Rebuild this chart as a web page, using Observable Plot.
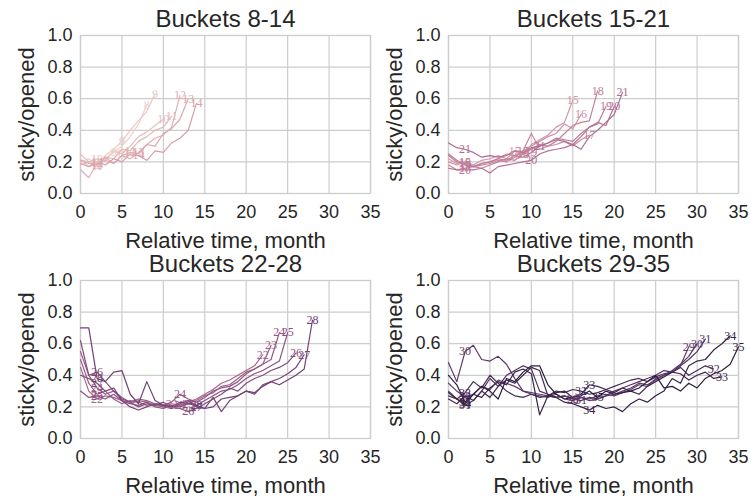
<!DOCTYPE html>
<html><head><meta charset="utf-8">
<script src="https://cdn.jsdelivr.net/npm/d3@7"></script>
<script src="https://cdn.jsdelivr.net/npm/@observablehq/plot@0.6"></script>
<style>
body{margin:0;background:#fff;}
#chart{position:relative;width:751px;height:497px;overflow:hidden;background:#fff;}
</style></head><body><div id="chart"></div>
<script>
// y value at relative month 0..b for each bucket b
const bucket8  = [0.22,0.17,0.19,0.22,0.26,0.30,0.36,0.44,0.56];
const bucket9  = [0.20,0.22,0.18,0.24,0.28,0.33,0.40,0.46,0.52,0.63];
const bucket10 = [0.25,0.20,0.22,0.21,0.27,0.25,0.30,0.36,0.39,0.43,0.47];
const bucket11 = [0.18,0.20,0.17,0.23,0.22,0.28,0.27,0.33,0.36,0.40,0.42,0.49];
const bucket12 = [0.15,0.10,0.19,0.21,0.19,0.24,0.26,0.25,0.31,0.35,0.37,0.42,0.62];
const bucket13 = [0.21,0.19,0.18,0.23,0.19,0.24,0.22,0.26,0.31,0.30,0.38,0.41,0.47,0.60];
const bucket14 = [0.19,0.17,0.20,0.18,0.22,0.20,0.25,0.24,0.21,0.27,0.26,0.32,0.35,0.40,0.57];

const bucket15 = [0.22,0.19,0.20,0.18,0.21,0.22,0.24,0.22,0.27,0.25,0.31,0.34,0.37,0.42,0.45,0.59];
const bucket16 = [0.20,0.18,0.20,0.17,0.19,0.20,0.22,0.25,0.24,0.27,0.30,0.33,0.36,0.38,0.44,0.41,0.50];
const bucket17 = [0.18,0.15,0.16,0.17,0.18,0.19,0.21,0.20,0.23,0.27,0.38,0.28,0.30,0.31,0.33,0.30,0.34,0.37];
const bucket18 = [0.24,0.20,0.19,0.17,0.16,0.18,0.20,0.22,0.21,0.25,0.28,0.31,0.30,0.33,0.38,0.43,0.45,0.46,0.65];
const bucket19 = [0.25,0.21,0.18,0.17,0.19,0.20,0.22,0.21,0.24,0.23,0.26,0.30,0.32,0.35,0.34,0.33,0.38,0.42,0.44,0.55];
const bucket20 = [0.16,0.15,0.15,0.15,0.16,0.13,0.17,0.18,0.19,0.20,0.21,0.25,0.27,0.28,0.29,0.31,0.36,0.42,0.45,0.43,0.55];
const bucket21 = [0.32,0.29,0.28,0.26,0.23,0.24,0.23,0.24,0.27,0.26,0.29,0.30,0.32,0.34,0.33,0.31,0.28,0.36,0.40,0.45,0.50,0.64];

const bucket22 = [0.45,0.30,0.25,0.27,0.26,0.24,0.22,0.24,0.23,0.21,0.20,0.22,0.21,0.23,0.25,0.28,0.31,0.35,0.37,0.40,0.43,0.46,0.53];
const bucket23 = [0.50,0.35,0.28,0.30,0.25,0.22,0.24,0.23,0.21,0.22,0.20,0.19,0.21,0.22,0.24,0.27,0.29,0.33,0.34,0.38,0.42,0.44,0.47,0.59];
const bucket24 = [0.55,0.40,0.32,0.28,0.30,0.26,0.23,0.25,0.24,0.22,0.21,0.23,0.28,0.25,0.23,0.26,0.30,0.32,0.33,0.36,0.41,0.44,0.47,0.50,0.67];
const bucket25 = [0.30,0.26,0.27,0.25,0.28,0.24,0.22,0.21,0.23,0.20,0.19,0.21,0.20,0.22,0.21,0.24,0.27,0.30,0.31,0.34,0.38,0.41,0.43,0.46,0.49,0.67];
const bucket26 = [0.62,0.40,0.42,0.36,0.30,0.25,0.23,0.20,0.22,0.21,0.23,0.20,0.19,0.17,0.19,0.22,0.25,0.28,0.32,0.30,0.35,0.38,0.40,0.43,0.45,0.48,0.54];
const bucket27 = [0.40,0.38,0.35,0.30,0.32,0.24,0.20,0.18,0.20,0.22,0.21,0.19,0.22,0.24,0.20,0.19,0.26,0.17,0.24,0.27,0.30,0.28,0.34,0.36,0.38,0.41,0.45,0.53];
const bucket28 = [0.70,0.70,0.38,0.36,0.42,0.43,0.28,0.22,0.36,0.24,0.21,0.20,0.23,0.22,0.21,0.19,0.20,0.25,0.26,0.27,0.30,0.29,0.33,0.36,0.34,0.37,0.40,0.44,0.75];

const bucket29 = [0.35,0.30,0.26,0.28,0.33,0.31,0.37,0.35,0.33,0.30,0.29,0.28,0.27,0.26,0.27,0.25,0.26,0.24,0.25,0.27,0.28,0.30,0.32,0.35,0.34,0.37,0.40,0.42,0.46,0.58];
const bucket30 = [0.48,0.36,0.55,0.59,0.50,0.49,0.52,0.47,0.38,0.30,0.28,0.27,0.26,0.28,0.25,0.24,0.26,0.25,0.27,0.28,0.27,0.29,0.31,0.34,0.33,0.38,0.40,0.43,0.47,0.52,0.60];
const bucket31 = [0.30,0.25,0.21,0.24,0.30,0.38,0.33,0.40,0.43,0.46,0.44,0.30,0.28,0.26,0.27,0.25,0.24,0.26,0.25,0.27,0.30,0.32,0.34,0.36,0.38,0.40,0.43,0.42,0.46,0.50,0.55,0.63];
const bucket32 = [0.27,0.25,0.29,0.36,0.32,0.40,0.35,0.30,0.27,0.26,0.28,0.26,0.27,0.30,0.29,0.31,0.30,0.28,0.29,0.31,0.33,0.35,0.37,0.38,0.36,0.39,0.41,0.42,0.45,0.40,0.43,0.46,0.44];
const bucket33 = [0.25,0.22,0.27,0.24,0.30,0.26,0.33,0.37,0.35,0.40,0.45,0.43,0.27,0.29,0.30,0.26,0.28,0.34,0.33,0.31,0.29,0.32,0.30,0.28,0.33,0.36,0.39,0.42,0.41,0.37,0.40,0.42,0.38,0.39];
const bucket34 = [0.29,0.25,0.22,0.28,0.26,0.32,0.36,0.34,0.42,0.44,0.41,0.15,0.27,0.26,0.23,0.22,0.20,0.18,0.21,0.19,0.20,0.17,0.22,0.25,0.23,0.27,0.30,0.38,0.35,0.46,0.49,0.50,0.56,0.60,0.65];
const bucket35 = [0.40,0.34,0.23,0.28,0.33,0.30,0.25,0.38,0.36,0.42,0.46,0.46,0.34,0.28,0.25,0.26,0.27,0.30,0.26,0.30,0.28,0.29,0.30,0.32,0.36,0.40,0.32,0.33,0.30,0.35,0.32,0.38,0.41,0.43,0.47,0.58];

const panelTitles = ["Buckets 8-14", "Buckets 15-21", "Buckets 22-28", "Buckets 29-35"];
const panelBuckets = [[8,9,10,11,12,13,14],[15,16,17,18,19,20,21],[22,23,24,25,26,27,28],[29,30,31,32,33,34,35]];
const xTicks = [0, 5, 10, 15, 20, 25, 30, 35];
const yTicks = [0, 0.2, 0.4, 0.6, 0.8, 1.0];
const xLabel = "Relative time, month";
const yLabel = "sticky/opened";

const series = {8:bucket8,9:bucket9,10:bucket10,11:bucket11,12:bucket12,13:bucket13,14:bucket14,
  15:bucket15,16:bucket16,17:bucket17,18:bucket18,19:bucket19,20:bucket20,21:bucket21,
  22:bucket22,23:bucket23,24:bucket24,25:bucket25,26:bucket26,27:bucket27,28:bucket28,
  29:bucket29,30:bucket30,31:bucket31,32:bucket32,33:bucket33,34:bucket34,35:bucket35};
const allBuckets = panelBuckets.flat();

// seaborn cubehelix_palette colours (light -> dark)
function cubehelixPalette(n, start = 0, rot = 0.4, gamma = 1, hue = 0.8, light = 0.85, dark = 0.15) {
  const f = (p0, p1) => x => {
    const xg = Math.pow(x, gamma);
    const a = hue * xg * (1 - xg) / 2;
    const phi = 2 * Math.PI * (start / 3 + rot * x);
    return xg + a * (p0 * Math.cos(phi) + p1 * Math.sin(phi));
  };
  const r = f(-0.14861, 1.78277), g = f(-0.29227, -0.90649), b = f(1.97294, 0);
  const c = v => Math.round(255 * Math.max(0, Math.min(1, v)));
  return d3.range(n).map(i => {
    const x = light + (dark - light) * i / (n - 1);
    return `rgb(${c(r(x))},${c(g(x))},${c(b(x))})`;
  });
}
const palette = cubehelixPalette(allBuckets.length);

const panelPos = [[0, 0], [368, 0], [0, 245], [368, 245]];
const gridColor = "#cccccc";
const textColor = "#262626";
const sans = "'Liberation Sans', Arial, sans-serif";

const chart = document.getElementById("chart");
panelBuckets.forEach((buckets, i) => {
  const rows = buckets.flatMap(b => series[b].map((y, x) => ({bucket: b, x, y})));
  const labels = buckets.flatMap(b => [2, Math.ceil(b / 2), b].map(x => ({bucket: b, x, y: series[b][x]})));
  const svg = Plot.plot({
    width: 375, height: 248,
    marginTop: 35, marginBottom: 55, marginLeft: 80, marginRight: 5,
    style: {background: "transparent", overflow: "visible", color: textColor, fontFamily: sans},
    x: {domain: [0, 35]},
    y: {domain: [0, 1]},
    color: {type: "ordinal", domain: allBuckets, range: palette},
    marks: [
      Plot.gridX(xTicks, {stroke: gridColor, strokeOpacity: 1, strokeWidth: 1.2}),
      Plot.gridY(yTicks, {stroke: gridColor, strokeOpacity: 1, strokeWidth: 1.2}),
      Plot.frame({stroke: gridColor, strokeWidth: 1.3}),
      Plot.axisX(xTicks, {tickSize: 0, tickPadding: 12, fontSize: 18, label: null, fill: textColor}),
      Plot.axisY(yTicks, {tickSize: 0, tickPadding: 8, fontSize: 18, label: null, fill: textColor, tickFormat: d3.format(".1f")}),
      Plot.line(rows, {x: "x", y: "y", z: "bucket", stroke: "bucket", strokeWidth: 1.2}),
      Plot.text(labels, {x: "x", y: "y", text: d => String(d.bucket), fill: "bucket", fontFamily: "'Liberation Serif', 'DejaVu Serif', serif", fontSize: 12}),
      Plot.text([panelTitles[i]], {frameAnchor: "top", textAnchor: "middle", lineAnchor: "top", dy: -26, fontSize: 24, fill: textColor}),
      Plot.text([xLabel], {frameAnchor: "bottom", textAnchor: "middle", lineAnchor: "top", dy: 39, fontSize: 22, fill: textColor}),
      Plot.text([yLabel], {frameAnchor: "left", textAnchor: "middle", lineAnchor: "top", rotate: -90, dx: -62, fontSize: 22, fill: textColor})
    ]
  });
  svg.style.position = "absolute";
  svg.style.left = panelPos[i][0] + "px";
  svg.style.top = panelPos[i][1] + "px";
  svg.style.maxWidth = "none";
  chart.appendChild(svg);
});
</script>
</body></html>
